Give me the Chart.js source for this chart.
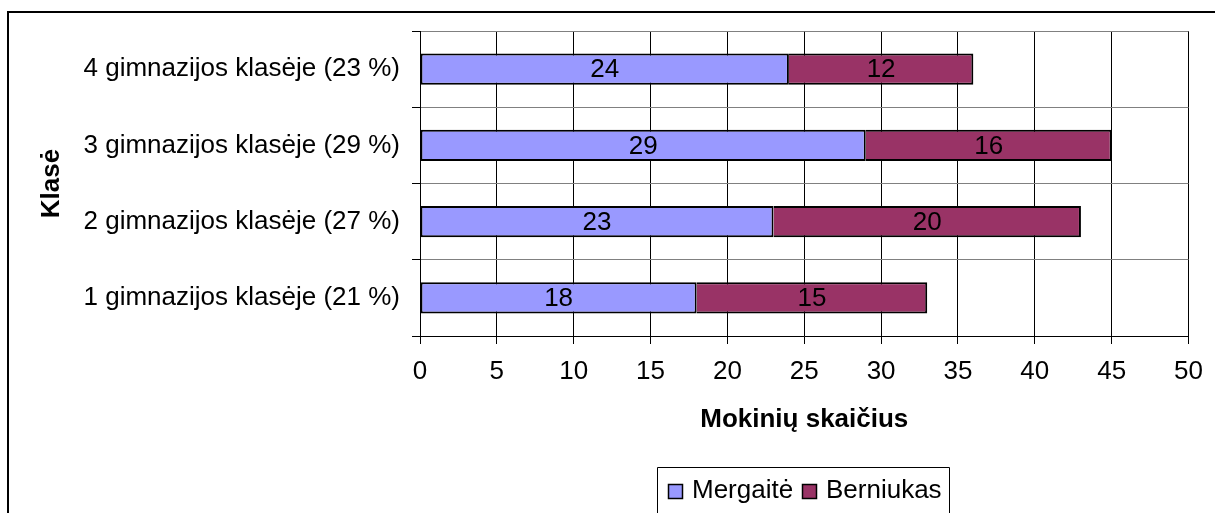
<!DOCTYPE html>
<html>
<head>
<meta charset="utf-8">
<script src="https://cdn.jsdelivr.net/npm/chart.js@4.4.1/dist/chart.umd.min.js"></script>
<style>
html,body{margin:0;padding:0;background:#fff;}
#wrap{position:relative;width:1215px;height:513px;}
</style>
</head>
<body>
<div id="wrap"><canvas id="c" width="1215" height="513"></canvas></div>
<script>
const categories = ['4 gimnazijos klasėje (23 %)', '3 gimnazijos klasėje (29 %)', '2 gimnazijos klasėje (27 %)', '1 gimnazijos klasėje (21 %)'];
const girls = [24, 29, 23, 18];
const boys = [12, 16, 20, 15];
const seriesNames = ['Mergaitė', 'Berniukas'];
const seriesColors = ['#9999FF', '#993366'];
const xTitle = 'Mokinių skaičius';
const yTitle = 'Klasė';

const FONT = '"Liberation Sans", Arial, sans-serif';
const FS = 26;

const decorPlugin = {
  id: 'decor',
  afterDatasetsDraw(chart) {
    const ctx = chart.ctx;
    ctx.save();
    ctx.font = FS + 'px ' + FONT;
    ctx.fillStyle = '#000';
    ctx.textAlign = 'center';
    ctx.textBaseline = 'middle';
    chart.data.datasets.forEach((ds, di) => {
      const meta = chart.getDatasetMeta(di);
      meta.data.forEach((el, i) => {
        const p = el.getCenterPoint();
        ctx.fillText(String(ds.data[i]), p.x, p.y + 1);
      });
    });
    ctx.restore();
  },
  afterDraw(chart) {
    const ctx = chart.ctx;
    const a = chart.chartArea;
    ctx.save();
    // outer frame
    ctx.strokeStyle = '#000';
    ctx.lineWidth = 2;
    ctx.beginPath();
    ctx.moveTo(8, 514);
    ctx.lineTo(8, 12);
    ctx.lineTo(1216, 12);
    ctx.stroke();
    // axis titles
    ctx.fillStyle = '#000';
    ctx.font = 'bold ' + FS + 'px ' + FONT;
    ctx.textAlign = 'center';
    ctx.textBaseline = 'middle';
    ctx.fillText(xTitle, (a.left + a.right) / 2, 420);
    ctx.save();
    ctx.translate(52, (a.top + a.bottom) / 2);
    ctx.rotate(-Math.PI / 2);
    ctx.fillText(yTitle, 0, 0);
    ctx.restore();
    // legend
    ctx.strokeStyle = '#000';
    ctx.lineWidth = 1;
    ctx.beginPath();
    ctx.moveTo(657.5, 514);
    ctx.lineTo(657.5, 467.5);
    ctx.lineTo(949.5, 467.5);
    ctx.lineTo(949.5, 514);
    ctx.stroke();
    ctx.font = FS + 'px ' + FONT;
    ctx.textAlign = 'left';
    const items = [{x: 668, tx: 692}, {x: 802, tx: 826}];
    items.forEach((it, i) => {
      ctx.fillStyle = seriesColors[i];
      ctx.fillRect(it.x, 484, 14, 14);
      ctx.lineWidth = 1.5;
      ctx.strokeStyle = '#000';
      ctx.strokeRect(it.x + 0.5, 484.5, 14, 14);
      ctx.fillStyle = '#000';
      ctx.fillText(seriesNames[i], it.tx, 491);
    });
    ctx.restore();
  }
};

new Chart(document.getElementById('c'), {
  type: 'bar',
  data: {
    labels: categories,
    datasets: [
      {label: seriesNames[0], data: girls, backgroundColor: seriesColors[0], borderColor: '#000', borderWidth: 2, borderSkipped: false, barPercentage: 0.41, categoryPercentage: 1},
      {label: seriesNames[1], data: boys, backgroundColor: seriesColors[1], borderColor: '#000', borderWidth: 2, borderSkipped: 'start', barPercentage: 0.41, categoryPercentage: 1}
    ]
  },
  options: {
    indexAxis: 'y',
    responsive: false,
    animation: false,
    events: [],
    layout: {padding: {top: 31, right: 26, bottom: 0, left: 0}},
    plugins: {legend: {display: false}, tooltip: {enabled: false}},
    scales: {
      x: {
        stacked: true,
        min: 0, max: 50,
        ticks: {stepSize: 5, color: '#000', font: {size: FS, family: FONT}, padding: 12, maxRotation: 0},
        grid: {color: '#000', lineWidth: 1, tickLength: 8, tickColor: '#000'},
        border: {color: '#000', width: 1},
        afterFit(s) { s.height = 177; }
      },
      y: {
        stacked: true,
        ticks: {color: '#000', font: {size: FS, family: FONT}, padding: 12},
        grid: {color: '#808080', lineWidth: 1, tickLength: 8, tickColor: '#000', offset: true},
        border: {color: '#000', width: 1},
        afterFit(s) { s.width = 420; }
      }
    }
  },
  plugins: [decorPlugin]
});
</script>
</body>
</html>
